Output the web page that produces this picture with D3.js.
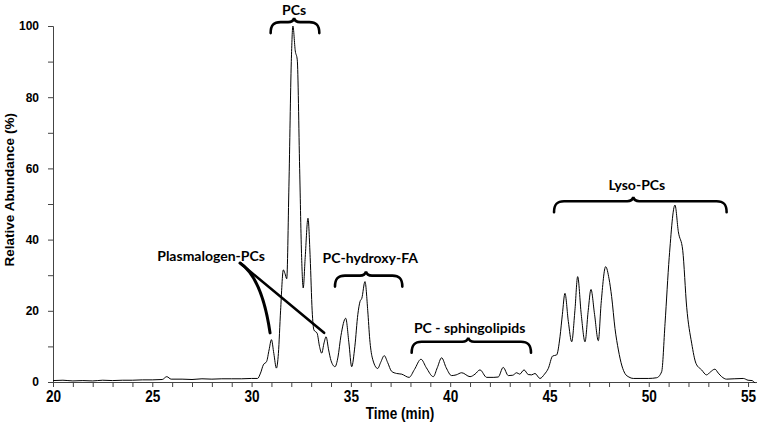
<!DOCTYPE html>
<html>
<head>
<meta charset="utf-8">
<script src="https://cdn.jsdelivr.net/npm/d3@7"></script>
<style>
  body { margin: 0; background: #fff; }
  svg { display: block; }
</style>
</head>
<body>
<script>
/* ------------------------------- chart data ------------------------------- */
// retention time (min) and relative abundance (%)
const times = [20, 20.5, 21, 21.5, 22, 22.5, 23, 23.5, 24, 24.5, 25, 25.5, 25.73, 25.95, 26.5, 27, 27.5, 28, 28.5, 29, 29.5, 30, 30.3,
  30.45, 30.59, 30.76, 30.88, 31.0, 31.12, 31.25, 31.35, 31.46, 31.6, 31.68, 31.77, 31.88, 32.0, 32.08, 32.2, 32.3, 32.42, 32.52, 32.6,
  32.7, 32.84, 32.95, 33.05, 33.14, 33.3, 33.42, 33.53, 33.65, 33.75, 33.88, 34.0, 34.2, 34.35, 34.5, 34.74, 34.9, 35.04, 35.2, 35.35,
  35.46, 35.55, 35.71, 35.85, 35.95, 36.07, 36.35, 36.5, 36.68, 36.85, 37.05, 37.3, 37.56, 37.93, 38.2, 38.53, 38.8, 39.15, 39.35, 39.57,
  39.8, 40.07, 40.3, 40.58, 41.0, 41.25, 41.5, 41.84, 42.2, 42.42, 42.67, 42.93, 43.15, 43.35, 43.5, 43.72, 43.93, 44.1, 44.27, 44.52,
  44.75, 44.94, 45.16, 45.36, 45.53, 45.65, 45.78, 45.95, 46.12, 46.28, 46.42, 46.6, 46.79, 46.95, 47.09, 47.27, 47.46, 47.6, 47.83,
  48.0, 48.13, 48.3, 48.47, 48.65, 48.8, 49.0, 49.22, 49.56, 50.0, 50.4, 50.65, 50.82, 51.03, 51.32, 51.49, 51.71, 51.91, 52.16, 52.38,
  52.66, 52.91, 53.1, 53.33, 53.5, 53.67, 53.92, 54.3, 54.76, 55.0, 55.2, 55.35];
const abundance = [0.4, 0.5, 0.3, 0.4, 0.3, 0.5, 0.4, 0.5, 0.5, 0.6, 0.6, 0.7, 1.5, 0.8, 0.8, 0.7, 0.9, 0.8, 0.9, 0.9, 0.9, 1.0, 1.0,
  2.5, 4.8, 5.8, 9, 11.9, 8, 3.9, 8, 20, 31.5, 30.5, 29, 55, 90, 100, 93, 90.5, 60, 35, 26.4,
  35, 46, 35, 20, 14.6, 13.7, 10, 8.1, 11, 12.7, 9, 6, 4.3, 7, 13, 17.9, 11, 4.3, 10, 19,
  22.6, 23.5, 28.2, 20, 12, 7, 3.8, 5.5, 7.4, 5.5, 3, 2.4, 2.2, 1.3, 3.5, 6.4, 4, 1.5, 4, 6.8,
  4, 1.8, 2, 2.6, 1.5, 2.2, 3.4, 1.3, 1.3, 1.4, 4.1, 1.8, 1.9, 2.6, 2.2, 3.4, 2.1, 2.0, 2.4, 1.0,
  2.2, 3.8, 7.3, 7.6, 12.7, 19, 24.9, 17, 11.3, 20, 29.6, 19, 11.3, 20, 26, 19, 11.6, 22, 32.4,
  29, 24, 15, 9, 4.5, 2.4, 1.4, 1.0, 1.0, 1.0, 1.2, 2.9, 16.5, 35, 49.7, 42.2, 37, 21, 10.9, 5.2,
  3.4, 2.0, 2.8, 3.6, 2.5, 1.5, 0.8, 0.9, 1.0, 0.5, 0.4, -0.3];

const xTicks = d3.range(20, 56, 1);
const xTickLabels = [20, 25, 30, 35, 40, 45, 50, 55];
const yTicks = d3.range(0, 101, 10);
const yTickLabels = [0, 20, 40, 60, 80, 100];

// curly-brace groups: label, start / end / middle time, brace level and label level (%)
const groupNames = ["PCs", "PC-hydroxy-FA", "PC - sphingolipids", "Lyso-PCs"];
const groupStart = [30.96, 34.2, 38.06, 45.23];
const groupEnd = [33.41, 37.59, 44.07, 53.92];
const groupMid = [32.14, 35.76, 40.91, 49.22];
const groupLevel = [98, 26.8, 8.2, 47.7];
const labelLevel = [103.2, 33.3, 13.8, 54.0];
const labelTime = [32.14, 35.98, 40.98, 49.4];

// plasmalogen callout: label position and the two pointed peaks (time, %)
const plasmaLabel = [27.96, 35.4];
const plasmaFrom = [29.42, 33.4];
const plasmaTo = [[30.93, 13.8], [33.65, 13.8]];

/* ------------------------------ document size ----------------------------- */
const width = 761, height = 432;
const margin = { top: 26, right: 5, bottom: 50, left: 53 };

const svg = d3.select("body").append("svg")
    .attr("width", width)
    .attr("height", height);

const x = d3.scaleLinear().domain([20, 55.4]).range([margin.left, 756]);
const y = d3.scaleLinear().domain([0, 100]).range([height - margin.bottom, margin.top]);

/* ---------------------------------- axes ---------------------------------- */
const xAxis = svg.append("g")
    .attr("transform", "translate(0," + y(0) + ")")
    .call(d3.axisBottom(x).tickValues(xTicks).tickSize(5).tickPadding(3)
        .tickFormat(d => xTickLabels.includes(d) ? d : ""));
xAxis.select(".domain").attr("d", "M" + x(20) + ",0.5H757");

const yAxis = svg.append("g")
    .attr("transform", "translate(" + x(20) + ",0)")
    .call(d3.axisLeft(y).tickValues(yTicks).tickSize(5).tickPadding(9)
        .tickFormat(d => yTickLabels.includes(d) ? d : ""));

svg.selectAll(".domain, .tick line").attr("stroke", "#444");
yAxis.selectAll("text")
    .style("font-family", "'Liberation Sans', Arial, sans-serif")
    .style("font-weight", "bold").style("font-size", "12px").attr("fill", "#000");
// condensed bold labels on the time axis
xAxis.selectAll(".tick text")
    .style("font-family", "'Liberation Sans', Arial, sans-serif")
    .style("font-weight", "bold").style("font-size", "17px").attr("fill", "#000")
    .attr("transform", "scale(0.8,1)");

svg.append("g")
    .attr("transform", "translate(400,419) scale(0.8,1)")
    .append("text")
    .attr("text-anchor", "middle")
    .style("font-family", "'Liberation Sans', Arial, sans-serif")
    .style("font-weight", "bold").style("font-size", "17px")
    .text("Time (min)");

svg.append("text")
    .attr("transform", "translate(14," + y(54) + ") rotate(-90)")
    .attr("text-anchor", "middle")
    .style("font-family", "'Liberation Sans', Arial, sans-serif")
    .style("font-weight", "bold").style("font-size", "13.5px")
    .text("Relative Abundance (%)");

/* ---------------------------------- trace --------------------------------- */
const trace = times.map((t, i) => [t, abundance[i]]);
svg.append("path")
    .datum(trace)
    .attr("fill", "none")
    .attr("stroke", "#000")
    .attr("stroke-width", 1)
    .attr("d", d3.line().x(d => x(d[0])).y(d => y(d[1])).curve(d3.curveMonotoneX));

/* ------------------------------ annotations ------------------------------- */
const annFont = "Lato, 'Open Sans', sans-serif";

function brace(x0, x1, xm, yEnd) {
    const top = yEnd - 11, cusp = yEnd - 15, r = 10;
    return "M" + x0 + "," + yEnd +
        "C" + x0 + "," + (top + 3) + " " + (x0 + 3) + "," + top + " " + (x0 + r) + "," + top +
        "L" + (xm - 6) + "," + top +
        "Q" + (xm - 1) + "," + top + " " + xm + "," + cusp +
        "Q" + (xm + 1) + "," + top + " " + (xm + 6) + "," + top +
        "L" + (x1 - r) + "," + top +
        "C" + (x1 - 3) + "," + top + " " + x1 + "," + (top + 3) + " " + x1 + "," + yEnd;
}

groupNames.forEach((name, i) => {
    svg.append("path")
        .attr("d", brace(x(groupStart[i]), x(groupEnd[i]), x(groupMid[i]), y(groupLevel[i])))
        .attr("fill", "none").attr("stroke", "#000").attr("stroke-width", 2.6)
        .attr("stroke-linecap", "round");
    svg.append("text")
        .attr("x", x(labelTime[i]))
        .attr("y", y(labelLevel[i]))
        .attr("text-anchor", "middle")
        .style("font-family", annFont).style("font-weight", "bold").style("font-size", "14px")
        .text(name);
});

svg.append("text")
    .attr("x", x(plasmaLabel[0])).attr("y", y(plasmaLabel[1]) + 5)
    .attr("text-anchor", "middle")
    .style("font-family", annFont).style("font-weight", "bold").style("font-size", "14px")
    .text("Plasmalogen-PCs");

const p0 = [x(plasmaFrom[0]), y(plasmaFrom[1])];
const pA = [x(plasmaTo[0][0]), y(plasmaTo[0][1])];
const pB = [x(plasmaTo[1][0]), y(plasmaTo[1][1])];
svg.append("path")
    .attr("d", "M" + p0 + "Q" + [p0[0] + 22, p0[1] + 15] + " " + pA)
    .attr("fill", "none").attr("stroke", "#000").attr("stroke-width", 3)
    .attr("stroke-linecap", "round");
svg.append("path")
    .attr("d", "M" + p0 + "L" + pB)
    .attr("fill", "none").attr("stroke", "#000").attr("stroke-width", 2.6)
    .attr("stroke-linecap", "round");
</script>
</body>
</html>
